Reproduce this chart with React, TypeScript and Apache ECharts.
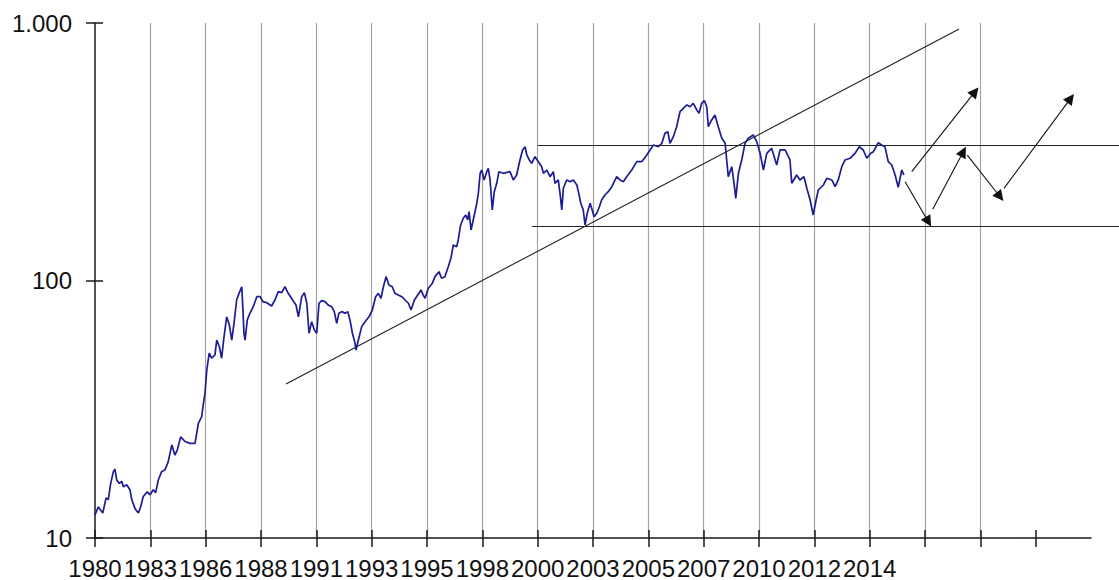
import { useEffect, useRef } from 'react';
import * as echarts from 'echarts';

const FONT = '"Liberation Sans", Arial, Helvetica, sans-serif';

// x axis: tick positions (decimal years) and their printed labels
const xTickYears = [1980, 1982.5, 1985, 1987.5, 1990, 1992.5, 1995, 1997.5, 2000, 2002.5, 2005, 2007.5, 2010, 2012.5, 2015, 2017.5, 2020, 2022.5];
const xTickLabels = ['1980', '1983', '1986', '1988', '1991', '1993', '1995', '1998', '2000', '2003', '2005', '2007', '2010', '2012', '2014'];

// y axis (log scale)
const yTickValues = [10, 100, 1000];
const yTickLabels = ['10', '100', '1.000'];

// index series (decimal year, index level)
const years1980s = [
  1980.00, 1980.15, 1980.35, 1980.50, 1980.60, 1980.71, 1980.83, 1980.90, 1980.98, 1981.10,
  1981.21, 1981.28, 1981.43, 1981.58, 1981.66, 1981.81, 1981.96, 1982.06, 1982.18, 1982.36,
  1982.49, 1982.63, 1982.74, 1982.86, 1983.01, 1983.16, 1983.31, 1983.47, 1983.61, 1983.72,
  1983.87, 1984.07, 1984.29, 1984.52, 1984.67, 1984.82, 1984.89, 1984.97, 1985.05, 1985.16,
  1985.27, 1985.42, 1985.50, 1985.62, 1985.72, 1985.83, 1985.95, 1986.07, 1986.18, 1986.28,
  1986.40, 1986.51, 1986.63, 1986.67, 1986.73, 1986.78, 1986.88, 1987.00, 1987.15, 1987.31,
  1987.46, 1987.58, 1987.76, 1987.98, 1988.13, 1988.28, 1988.44, 1988.58, 1988.73, 1988.93,
  1989.08, 1989.19,
];
const values1980s = [
  12.3, 13.2, 12.5, 14.3, 14.1, 16.3, 18.1, 18.5, 16.8, 16.3,
  16.6, 15.8, 16.1, 15.4, 14.1, 13.0, 12.5, 13.2, 14.5, 15.1,
  14.7, 15.4, 15.0, 16.8, 18.1, 18.4, 19.8, 23.0, 21.0, 22.0,
  24.7, 23.7, 23.3, 23.3, 27.9, 29.6, 32.9, 36.5, 44.9, 52.2,
  49.9, 51.4, 58.7, 55.3, 49.9, 60.5, 72.3, 67.2, 58.7, 68.2,
  84.0, 89.2, 94.6, 81.6, 62.4, 58.7, 70.3, 74.6, 79.1, 86.5,
  86.5, 82.8, 82.0, 79.6, 84.0, 90.5, 89.7, 94.6, 89.2, 84.0,
  80.3, 72.3,
];
const years1990s = [
  1989.34, 1989.46, 1989.57, 1989.67, 1989.79, 1989.91, 1990.02, 1990.12, 1990.24, 1990.39,
  1990.54, 1990.69, 1990.81, 1990.92, 1991.02, 1991.15, 1991.30, 1991.42, 1991.52, 1991.63,
  1991.75, 1991.79, 1991.90, 1992.05, 1992.20, 1992.38, 1992.53, 1992.68, 1992.80, 1992.92,
  1993.03, 1993.15, 1993.28, 1993.43, 1993.55, 1993.70, 1993.86, 1994.01, 1994.16, 1994.28,
  1994.43, 1994.58, 1994.73, 1994.83, 1994.91, 1995.06, 1995.24, 1995.36, 1995.54, 1995.66,
  1995.81, 1995.96, 1996.08, 1996.19, 1996.34, 1996.41, 1996.52, 1996.64, 1996.75, 1996.84,
  1996.90, 1996.99, 1997.09, 1997.25, 1997.32, 1997.40, 1997.47, 1997.58, 1997.70, 1997.77,
  1997.85, 1997.95,
];
const values1990s = [
  86.5, 89.7, 81.6, 62.4, 69.2, 64.2, 62.4, 81.6, 83.5, 82.8,
  80.3, 79.1, 75.7, 68.2, 74.6, 75.7, 74.6, 75.7, 70.3, 62.4,
  57.0, 53.7, 58.7, 66.2, 69.2, 72.3, 76.8, 86.5, 89.2, 85.3,
  94.6, 103.5, 96.1, 94.6, 89.2, 87.8, 86.5, 84.0, 81.6, 76.8,
  84.0, 87.8, 91.9, 87.8, 85.3, 93.3, 97.5, 103.5, 108.2, 102.0,
  103.5, 113.1, 122.0, 137.4, 135.3, 143.7, 164.3, 174.4, 179.7, 171.8,
  185.1, 157.1, 171.8, 199.5, 218.1, 260.8, 268.6, 245.7, 264.6, 272.7,
  245.7, 187.8,
];
const years2000s = [
  1998.04, 1998.15, 1998.25, 1998.45, 1998.75, 1998.90, 1999.05, 1999.20, 1999.32, 1999.43,
  1999.51, 1999.62, 1999.73, 1999.88, 2000.03, 2000.18, 2000.26, 2000.41, 2000.56, 2000.71,
  2000.78, 2000.93, 2001.01, 2001.09, 2001.16, 2001.31, 2001.46, 2001.61, 2001.77, 2001.84,
  2001.95, 2002.06, 2002.14, 2002.24, 2002.37, 2002.44, 2002.55, 2002.67, 2002.79, 2002.89,
  2003.04, 2003.19, 2003.35, 2003.57, 2003.72, 2003.87, 2004.02, 2004.25, 2004.48, 2004.70,
  2004.93, 2005.23, 2005.45, 2005.61, 2005.75, 2005.88, 2005.98, 2006.13, 2006.28, 2006.43,
  2006.58, 2006.74, 2006.89, 2007.03, 2007.19, 2007.29, 2007.41, 2007.53, 2007.64, 2007.71,
  2007.86, 2008.01,
];
const values2000s = [
  221.3, 238.5, 264.6, 260.8, 264.6, 245.7, 256.9, 293.8, 321.3, 330.8,
  307.2, 293.8, 285.2, 302.6, 289.4, 276.7, 260.8, 268.6, 253.0, 264.6,
  238.5, 245.7, 218.1, 187.8, 228.1, 245.7, 241.9, 245.7, 234.9, 221.3,
  199.5, 187.8, 164.3, 182.4, 199.5, 190.7, 177.0, 182.4, 193.4, 205.4,
  214.8, 221.3, 231.4, 253.0, 245.7, 241.9, 253.0, 268.6, 289.4, 289.4,
  307.2, 335.9, 330.8, 341.1, 372.9, 378.4, 341.1, 361.7, 395.6, 452.4,
  466.4, 480.4, 473.1, 487.8, 459.4, 446.0, 487.8, 499.3, 473.1, 395.6,
  420.1, 439.3,
];
const years2010s = [
  2008.16, 2008.32, 2008.47, 2008.54, 2008.61, 2008.77, 2008.89, 2008.95, 2009.07, 2009.22,
  2009.37, 2009.52, 2009.74, 2009.90, 2010.05, 2010.20, 2010.35, 2010.57, 2010.80, 2010.95,
  2011.18, 2011.40, 2011.48, 2011.70, 2011.85, 2012.03, 2012.16, 2012.31, 2012.45, 2012.58,
  2012.68, 2012.91, 2013.06, 2013.29, 2013.44, 2013.58, 2013.74, 2013.89, 2014.11, 2014.34,
  2014.53, 2014.71, 2014.87, 2015.05, 2015.17, 2015.39, 2015.54, 2015.69, 2015.84, 2016.00,
  2016.15, 2016.29, 2016.45, 2016.55,
];
const values2010s = [
  395.6, 356.6, 341.1, 293.8, 253.0, 276.7, 231.4, 208.5, 260.8, 293.8,
  341.1, 356.6, 367.3, 345.9, 311.9, 268.6, 311.9, 326.1, 280.9, 321.3,
  321.3, 293.8, 238.5, 256.9, 245.7, 253.0, 228.1, 205.4, 179.7, 205.4,
  224.6, 234.9, 249.4, 245.7, 231.4, 245.7, 276.7, 293.8, 298.3, 311.9,
  330.8, 321.3, 298.3, 311.9, 316.4, 342.9, 335.9, 330.8, 289.4, 280.9,
  256.9, 230.1, 268.6, 256.9,
];

// annotations (data coordinates)
const rangeTopValue = 336;
const rangeBottomValue = 163;
const rangeTopStart = 2000.0;
const rangeBottomStart = 1999.74;
const rangeEnd = 2026.27;
const trendStart = [1988.63, 39.6];
const trendEnd = [2019.04, 948];
const scenarioArrows = [
  [[2016.9, 264.6], [2019.76, 541]],
  [[2016.6, 241.9], [2017.65, 169.2]],
  [[2017.85, 189.0], [2019.23, 316.4]],
  [[2019.41, 307], [2020.89, 211.5]],
  [[2021.07, 228], [2024.08, 510]],
];

const AXIS_COLOR = '#1a1a1a';
const GRID_COLOR = '#a3a3a3';

export default function App() {
  const ref = useRef<HTMLDivElement>(null);

  useEffect(() => {
    if (!ref.current) return;
    const chart = echarts.init(ref.current, null, { renderer: 'svg' });

    const allYears = [...years1980s, ...years1990s, ...years2000s, ...years2010s];
    const allValues = [...values1980s, ...values1990s, ...values2000s, ...values2010s];
    const seriesData = allYears.map((y, i) => [y, allValues[i]]);

    const xCommon = { type: 'value', min: 1980, max: 2025, interval: 2.5, position: 'bottom' };
    const yCommon = { type: 'log', logBase: 10, min: 10, max: 1000, position: 'left' };

    const option: any = {
      animation: false,
      backgroundColor: '#ffffff',
      grid: { left: 95, right: 28, top: 23, bottom: 42, containLabel: false, outerBoundsMode: 'none' },
      xAxis: [
        {
          ...xCommon,
          axisLine: { show: true, onZero: false, lineStyle: { color: AXIS_COLOR, width: 1.5 } },
          axisTick: { show: true, inside: false, length: 9, customValues: xTickYears, lineStyle: { color: AXIS_COLOR, width: 1.5 } },
          axisLabel: {
            show: true,
            margin: 18,
            fontSize: 24,
            lineHeight: 24,
            fontFamily: FONT,
            color: '#111111',
            showMinLabel: true,
            showMaxLabel: true,
            hideOverlap: false,
            formatter: (v: number) => xTickLabels[Math.round((v - 1980) / 2.5)] ?? '',
          },
          splitLine: { show: true, showMinLine: false, showMaxLine: false, lineStyle: { color: GRID_COLOR, width: 1.2 } },
        },
        {
          ...xCommon,
          offset: 0,
          axisLine: { show: false, onZero: false },
          axisTick: { show: true, inside: true, length: 8, customValues: xTickYears, lineStyle: { color: AXIS_COLOR, width: 1.5 } },
          axisLabel: { show: false },
          splitLine: { show: false },
        },
      ],
      yAxis: [
        {
          ...yCommon,
          axisLine: { show: true, onZero: false, lineStyle: { color: AXIS_COLOR, width: 1.5 } },
          axisTick: { show: true, inside: false, length: 9, lineStyle: { color: AXIS_COLOR, width: 1.5 } },
          minorTick: { show: false },
          axisLabel: {
            show: true,
            margin: 23,
            fontSize: 24,
            fontFamily: FONT,
            color: '#111111',
            showMinLabel: true,
            showMaxLabel: true,
            formatter: (v: number) => {
              const i = yTickValues.indexOf(Math.round(v));
              return i >= 0 ? yTickLabels[i] : '';
            },
          },
          splitLine: { show: false },
        },
        {
          ...yCommon,
          offset: 0,
          axisLine: { show: false, onZero: false },
          axisTick: { show: true, inside: true, length: 8, lineStyle: { color: AXIS_COLOR, width: 1.5 } },
          minorTick: { show: false },
          axisLabel: { show: false },
          splitLine: { show: false },
        },
      ],
      series: [
        {
          name: 'Index',
          type: 'line',
          xAxisIndex: 0,
          yAxisIndex: 0,
          data: seriesData,
          showSymbol: false,
          symbol: 'none',
          lineStyle: { color: '#1c1c94', width: 1.7 },
          z: 5,
        },
        {
          name: 'Range and trend',
          type: 'lines',
          coordinateSystem: 'cartesian2d',
          xAxisIndex: 0,
          yAxisIndex: 0,
          clip: false,
          symbol: ['none', 'none'],
          lineStyle: { color: '#222222', width: 1.1, opacity: 1 },
          data: [
            { coords: [[rangeTopStart, rangeTopValue], [rangeEnd, rangeTopValue]] },
            { coords: [[rangeBottomStart, rangeBottomValue], [rangeEnd, rangeBottomValue]] },
            { coords: [trendStart, trendEnd] },
          ],
          z: 4,
        },
        {
          name: 'Scenarios',
          type: 'lines',
          coordinateSystem: 'cartesian2d',
          xAxisIndex: 0,
          yAxisIndex: 0,
          clip: false,
          symbol: ['none', 'triangle'],
          symbolSize: [8, 11],
          lineStyle: { color: '#111111', width: 1.1, opacity: 1 },
          itemStyle: { color: '#111111' },
          data: scenarioArrows.map((c) => ({ coords: c })),
          z: 4,
        },
      ],
    };

    chart.setOption(option);
    return () => chart.dispose();
  }, []);

  return (
    <div
      ref={ref}
      style={{ position: 'absolute', left: 0, top: 0, width: 1119, height: 580, background: '#fff' }}
    />
  );
}
